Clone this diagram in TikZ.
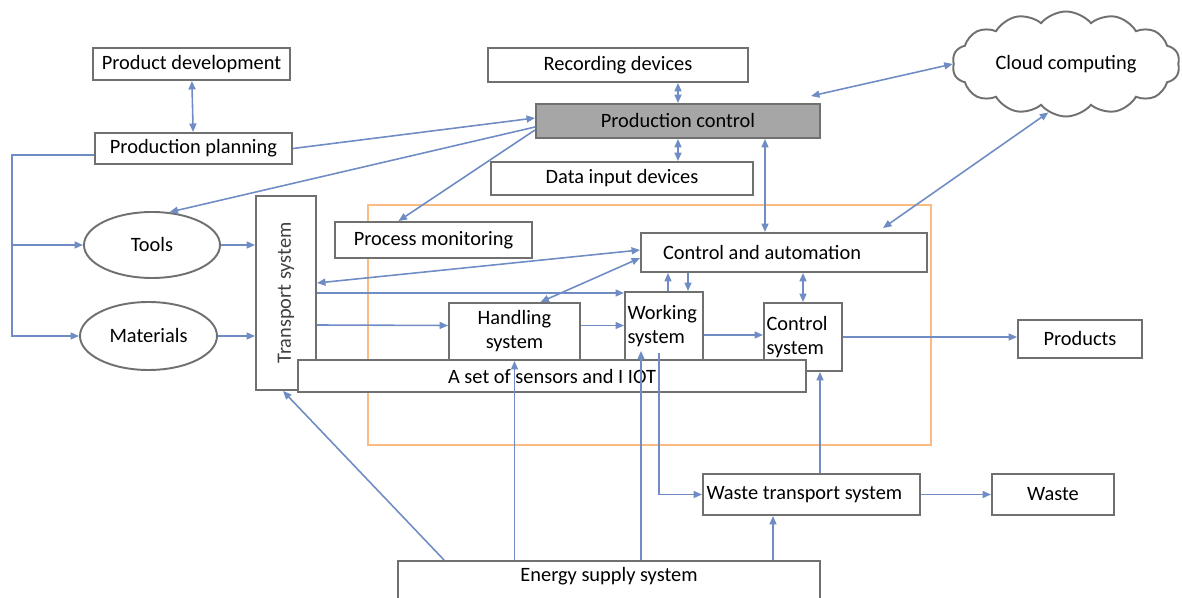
\documentclass[tikz,border=0pt]{standalone}
\usepackage{fontspec}
\setmainfont{Carlito}
\usepackage{graphicx}
\usetikzlibrary{arrows.meta,positioning,calc,shapes.geometric,shapes.symbols}
\definecolor{linkblue}{RGB}{112,140,196}
\definecolor{boxgray}{RGB}{112,112,112}
\definecolor{ctrlgray}{RGB}{166,166,166}
\definecolor{frameorange}{RGB}{250,188,128}
\begin{document}
\begin{tikzpicture}[>={Triangle[length=1.7mm,width=1.4mm]},font=\fontsize{11.6}{13.6}\selectfont,
 box/.style={draw=boxgray,line width=1.1pt,fill=white,inner sep=2pt,align=center},
 oval/.style={ellipse,draw=boxgray,line width=1.1pt,fill=white},
 link/.style={draw=linkblue,line width=0.9pt}]
\useasboundingbox (0,0) rectangle (23.64,-11.96);
\draw[frameorange,line width=1.2pt] (7.36,-4.10) rectangle (18.62,-8.90);
\node[box,minimum width=3.94cm,minimum height=0.64cm] (pdev) at (3.83,-1.28) {Product development};
\node[box,minimum width=3.94cm,minimum height=0.62cm] (pplan) at (3.87,-2.97) {Production planning};
\node[box,minimum width=5.2cm,minimum height=0.68cm] (rec) at (12.36,-1.30) {Recording devices};
\node[box,fill=ctrlgray,minimum width=5.68cm,minimum height=0.68cm] (pctrl) at (13.56,-2.42) {Production control};
\node[box,minimum width=5.24cm,minimum height=0.66cm] (datain) at (12.44,-3.57) {Data input devices};
\node[cloud,draw=boxgray,line width=1.1pt,cloud puffs=14,cloud puff arc=100,cloud ignores aspect,minimum width=4.55cm,minimum height=2.1cm] (cloud) at (21.32,-1.28) {Cloud computing};
\node[oval,minimum width=2.72cm,minimum height=1.32cm] (tools) at (3.04,-4.90) {Tools};
\node[oval,minimum width=2.74cm,minimum height=1.36cm] (mat) at (2.97,-6.72) {Materials};
\node[box,minimum width=1.2cm,minimum height=3.88cm,text=darkgray] (trans) at (5.72,-5.86) {\rotatebox{90}{Transport system}};
\node[box,minimum width=3.94cm,minimum height=0.72cm] (pmon) at (8.67,-4.80) {Process monitoring};
\node[box,minimum height=0.78cm,text width=4.84cm,inner xsep=0.44cm,align=flush left] (ctrlauto) at (15.68,-5.05) {Control and automation};
\node[box,minimum width=2.62cm,minimum height=1.14cm] (handling) at (10.29,-6.63) {Handling\\system};
\node[box,text width=1.46cm,inner xsep=0.05cm,minimum height=1.36cm,align=flush left] (working) at (13.28,-6.52) {Working\\system};
\node[box,text width=1.46cm,inner xsep=0.05cm,minimum height=1.36cm,align=flush left] (ctrlsys) at (16.06,-6.74) {Control\\system};
\node[box,minimum width=10.16cm,minimum height=0.64cm] (sensors) at (11.04,-7.52) {A set of sensors and I IOT};
\node[box,minimum width=2.48cm,minimum height=0.76cm] (products) at (21.60,-6.78) {Products};
\node[box,text width=4.2cm,inner xsep=0.07cm,minimum height=0.82cm,align=flush left] (wtrans) at (16.23,-9.89) {Waste transport system};
\node[box,minimum width=2.44cm,minimum height=0.82cm] (waste) at (21.06,-9.89) {Waste};
\node[box,minimum width=8.44cm,text depth=0.42cm,inner ysep=0.12cm,anchor=north] (energy) at (12.18,-11.2) {Energy supply system};
\coordinate (split) at (0.24,-3.1);
\draw[link,<->] (pdev) -- (pplan);
\draw[link,->] (pplan.east) -- ([yshift=0.06cm]pctrl.west);
\draw[link,->] ([yshift=-0.12cm]pctrl.west) -- (tools.62);
\draw[link,->] ([yshift=-0.18cm]pctrl.west) -- ([xshift=-0.7cm]pmon.north);
\draw[link,<->] (rec.south -| pctrl) -- (pctrl.north);
\draw[link,<->] (pctrl.south) -- (pctrl.south |- datain.north);
\draw[link,<->] ([xshift=-0.2cm,yshift=0.14cm]pctrl.north east) -- (cloud.west);
\draw[link,<->] (cloud.250) -- ([xshift=1.98cm,yshift=0.08cm]ctrlauto.north);
\draw[link,<->] ([xshift=-0.38cm]ctrlauto.north) -- ([xshift=-0.38cm]ctrlauto.north |- pctrl.south);
\draw[link,->] ([yshift=-0.13cm]pplan.west) -| (split |- mat) -- (mat.west);
\draw[link,->] (split |- tools) -- (tools.west);
\draw[link,->] (tools.east) -- (tools.east -| trans.west);
\draw[link,->] (mat.east) -- (mat.east -| trans.west);
\draw[link,<->] ([yshift=0.2cm]trans.east) -- ([yshift=0.05cm]ctrlauto.west);
\draw[link,<->] ([xshift=0.52cm]handling.north) -- ([yshift=-0.11cm]ctrlauto.west);
\draw[link,->] (trans.east) -- (trans.east -| working.west);
\draw[link,->] ([yshift=-0.64cm]trans.east) -- ([yshift=0.12cm]handling.west);
\draw[link,->] ([yshift=0.12cm]handling.east) -- ([yshift=0.12cm]handling.east -| working.west);
\draw[link,->] ([xshift=0.08cm]working.north) -- ([xshift=0.08cm]working.north |- ctrlauto.south);
\draw[link,->] ([xshift=0.48cm]working.north |- ctrlauto.south) -- ([xshift=0.48cm]working.north);
\draw[link,<->] (ctrlsys.north) -- (ctrlsys.north |- ctrlauto.south);
\draw[link,->] ([yshift=-0.18cm]working.east) -- ([yshift=-0.18cm]working.east -| ctrlsys.west);
\draw[link,->] (ctrlsys.east) -- (ctrlsys.east -| products.west);
\draw[link,->] (energy.north -| handling) -- (handling.south);
\draw[link,->] ([xshift=-0.46cm]energy.north -| working) -- ([xshift=-0.46cm,yshift=0.2cm]working.south);
\draw[link,->] ([xshift=-0.1cm,yshift=0.16cm]working.south) |- (wtrans.west);
\draw[link,->] ([xshift=-0.77cm]wtrans.south |- energy.north) -- ([xshift=-0.77cm]wtrans.south);
\draw[link,->] ([xshift=0.34cm]ctrlsys.south |- wtrans.north) -- ([xshift=0.34cm]ctrlsys.south);
\draw[link,->] (wtrans.east) -- (waste.west);
\draw[link,->] ([xshift=0.94cm]energy.north west) -- ([xshift=-0.06cm]trans.south);
\end{tikzpicture}
\end{document}
